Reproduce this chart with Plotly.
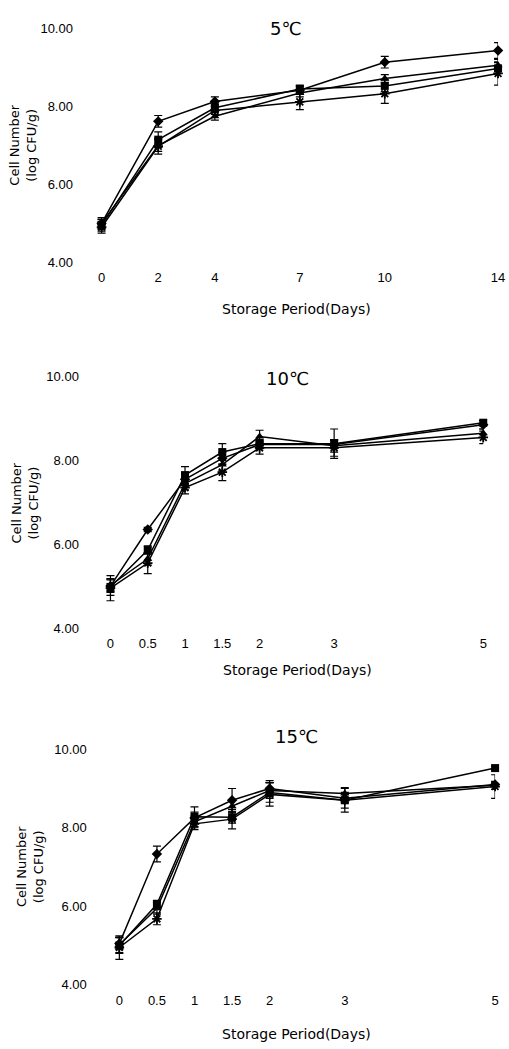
import plotly.graph_objects as go

W, H = 509, 1049

# ---------------- data ----------------
days_5 = [0, 2, 4, 7, 10, 14]
days_10 = [0, 0.5, 1, 1.5, 2, 3, 5]
days_15 = [0, 0.5, 1, 1.5, 2, 3, 5]

# 5 C
p1_diamond = [5.00, 7.62, 8.13, 8.42, 9.14, 9.44]
p1_square = [4.95, 7.15, 7.97, 8.45, 8.53, 8.98]
p1_triangle = [5.00, 7.00, 7.75, 8.35, 8.72, 9.06]
p1_x = [4.90, 6.98, 7.90, 8.12, 8.33, 8.85]
p1_err_diamond = [0.15, 0.15, 0.12, 0.10, 0.15, 0.20]
p1_err_square = [0.15, 0.20, 0.10, 0.10, 0.15, 0.15]
p1_err_triangle = [0.10, 0.15, 0.10, 0.10, 0.10, 0.15]
p1_err_x = [0.15, 0.20, 0.10, 0.20, 0.25, 0.30]

# 10 C
p2_diamond = [5.00, 6.35, 7.55, 8.05, 8.38, 8.38, 8.85]
p2_square = [4.98, 5.86, 7.65, 8.20, 8.40, 8.40, 8.90]
p2_triangle = [5.02, 5.65, 7.45, 7.90, 8.57, 8.35, 8.65]
p2_x = [4.95, 5.55, 7.35, 7.72, 8.30, 8.30, 8.55]
p2_err_diamond = [0.15, 0.05, 0.15, 0.15, 0.10, 0.10, 0.10]
p2_err_square = [0.20, 0.10, 0.20, 0.20, 0.10, 0.35, 0.05]
p2_err_triangle = [0.15, 0.15, 0.15, 0.15, 0.15, 0.15, 0.10]
p2_err_x = [0.30, 0.25, 0.15, 0.20, 0.15, 0.20, 0.15]

# 15 C
p3_diamond = [5.05, 7.33, 8.25, 8.70, 9.00, 8.75, 9.10]
p3_square = [5.00, 6.05, 8.28, 8.27, 8.90, 8.70, 9.52]
p3_triangle = [5.02, 5.95, 8.15, 8.55, 8.95, 8.87, 9.08]
p3_x = [4.95, 5.68, 8.10, 8.22, 8.85, 8.70, 9.05]
p3_err_diamond = [0.15, 0.20, 0.15, 0.30, 0.20, 0.10, 0.05]
p3_err_square = [0.20, 0.10, 0.25, 0.15, 0.25, 0.30, 0.05]
p3_err_triangle = [0.20, 0.15, 0.15, 0.15, 0.20, 0.15, 0.10]
p3_err_x = [0.30, 0.15, 0.15, 0.25, 0.30, 0.20, 0.30]

y_ticks = [4, 6, 8, 10]
panel_titles = ["5℃", "10℃", "15℃"]
x_title = "Storage Period(Days)"
y_title = "Cell Number<br>(log CFU/g)"

panels = [
    (days_5, [(p1_diamond, p1_err_diamond), (p1_square, p1_err_square),
              (p1_triangle, p1_err_triangle), (p1_x, p1_err_x)]),
    (days_10, [(p2_diamond, p2_err_diamond), (p2_square, p2_err_square),
               (p2_triangle, p2_err_triangle), (p2_x, p2_err_x)]),
    (days_15, [(p3_diamond, p3_err_diamond), (p3_square, p3_err_square),
               (p3_triangle, p3_err_triangle), (p3_x, p3_err_x)]),
]

symbols = ["diamond", "square", "triangle-up", "asterisk-open"]
sizes = [8, 8, 8, 8]

# ---------------- layout geometry (pixels) ----------------
# (left px, x-origin px, right px, xmax, y10 px, y4 px)
geom = [
    (75, 103, 505, 14, 22, 259),
    (81, 112, 490, 5, 375, 630),
    (89, 121, 502, 5, 753, 992),
]
title_pos = [(290, 22), (292, 377), (301, 740)]
xtitle_pos = [(301, 306), (302, 673), (301, 1042)]
ytitle_pos = [(23, 140), (25, 503), (30, 872)]

FONT = "Liberation Sans, Arial, sans-serif"
fig = go.Figure()

for i, (days, series) in enumerate(panels):
    ax = "" if i == 0 else str(i + 1)
    for (vals, errs), sym, sz in zip(series, symbols, sizes):
        fig.add_trace(go.Scatter(
            x=days, y=vals, mode="lines+markers",
            xaxis="x" + ax, yaxis="y" + ax,
            line=dict(color="black", width=1.5),
            marker=dict(symbol=sym, size=sz, color="black",
                        line=dict(color="black", width=1.8 if "open" in sym else 0)),
            error_y=dict(type="data", array=errs, visible=True,
                         color="black", thickness=1.2, width=4),
            cliponaxis=False, showlegend=False,
        ))

    left, x0, right, xmax, y10, y4 = geom[i]
    ppu = (right - x0) / xmax
    xmin = -(x0 - left) / ppu
    xkey = "xaxis" + ax
    ykey = "yaxis" + ax
    fig.layout[xkey] = dict(
        domain=[left / W, right / W], range=[xmin, xmax],
        anchor="y" + ax, tickvals=days, ticktext=[str(d) for d in days],
        showline=False, showgrid=False, zeroline=False, ticks="",
        ticklabelstandoff=6,
        tickfont=dict(family=FONT, size=13, color="black"),
    )
    fig.layout[ykey] = dict(
        domain=[1 - y4 / H, 1 - y10 / H], range=[4, 10],
        anchor="x" + ax, tickvals=y_ticks, tickformat=".2f",
        showline=False, showgrid=False, zeroline=False, ticks="",
        tickfont=dict(family=FONT, size=13, color="black"),
    )

annotations = []
for i in range(3):
    tx, ty = title_pos[i]
    annotations.append(dict(text=panel_titles[i], x=tx / W, y=1 - ty / H,
                            xref="paper", yref="paper", showarrow=False,
                            xanchor="center", yanchor="middle",
                            font=dict(family="DejaVu Sans, Noto Sans CJK KR", size=18, color="black")))
    xx, xy = xtitle_pos[i]
    annotations.append(dict(text=x_title, x=xx / W, y=1 - xy / H,
                            xref="paper", yref="paper", showarrow=False,
                            xanchor="center", yanchor="middle",
                            font=dict(family="DejaVu Sans", size=14, color="black")))
    yx, yy = ytitle_pos[i]
    annotations.append(dict(text=y_title, x=yx / W, y=1 - yy / H,
                            xref="paper", yref="paper", showarrow=False,
                            xanchor="center", yanchor="middle", textangle=-90,
                            font=dict(family="DejaVu Sans", size=13, color="black")))

fig.update_layout(
    width=W, height=H,
    margin=dict(l=0, r=0, t=0, b=0),
    paper_bgcolor="white", plot_bgcolor="white",
    annotations=annotations,
    showlegend=False,
)

fig.write_html("out.html")
